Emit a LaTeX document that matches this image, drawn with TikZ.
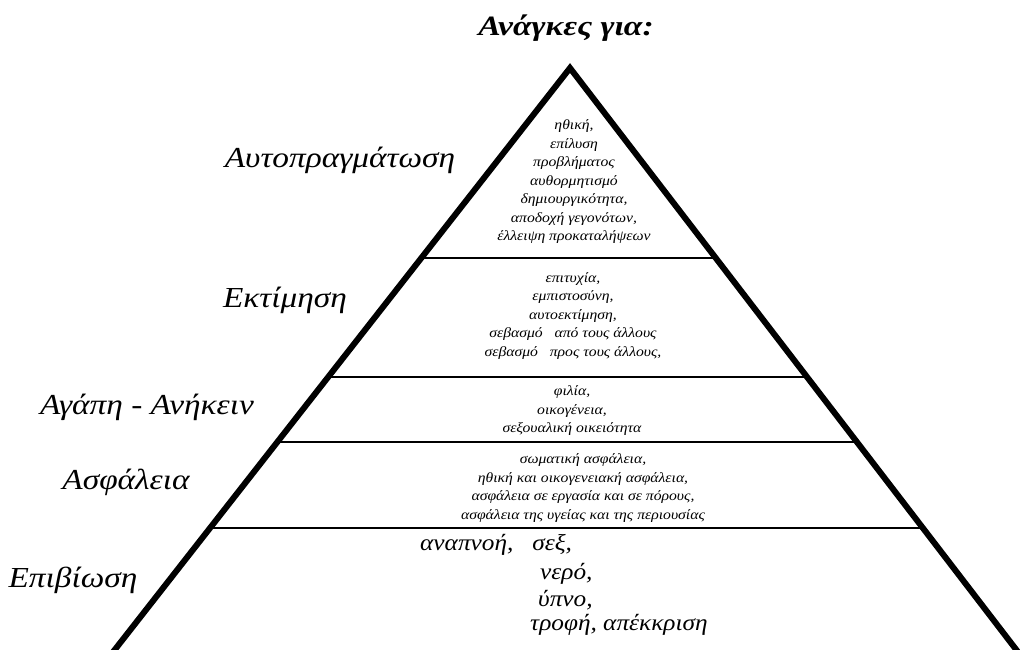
\documentclass[tikz,border=0pt]{standalone}
\usepackage{fontspec}
\setmainfont{Liberation Serif}
\newfontfamily\lblfont[FakeStretch=1.15]{Liberation Serif}
\newfontfamily\smallfont[FakeStretch=1.12]{Liberation Serif}
\newfontfamily\bigfont[FakeStretch=1.1]{Liberation Serif}
\newfontfamily\titlefont[FakeStretch=1.2]{Liberation Serif}
\begin{document}
\begin{tikzpicture}[x=1pt,y=-1pt,
  outer/.style={line width=6pt,line join=miter,line cap=butt},
  inner/.style={line width=1.8pt},
  lvl/.style={font=\lblfont\itshape\fontsize{29}{32}\selectfont,inner sep=0pt},
  small/.style={font=\smallfont\itshape\fontsize{14}{18.5}\selectfont,align=center,inner sep=0pt},
  big/.style={font=\bigfont\itshape\fontsize{23}{26}\selectfont,inner sep=0pt,anchor=west}]
\useasboundingbox (0,0) rectangle (1020,649);
\coordinate (apex) at (570,68);
\coordinate (bl) at (113,652);
\coordinate (br) at (1018,652);
% horizontal dividers
\path (apex) -- (bl) coordinate[pos=0.325] (a1) coordinate[pos=0.529] (a2) coordinate[pos=0.640] (a3) coordinate[pos=0.788] (a4);
\path (apex) -- (br) coordinate[pos=0.325] (b1) coordinate[pos=0.529] (b2) coordinate[pos=0.640] (b3) coordinate[pos=0.788] (b4);
\draw[inner] (a1) -- (b1);
\draw[inner] (a2) -- (b2);
\draw[inner] (a3) -- (b3);
\draw[inner] (a4) -- (b4);
\draw[outer] (bl) -- (apex) -- (br);
% title
\node[font=\titlefont\bfseries\itshape\fontsize{28}{30}\selectfont] (title) at (566,28) {Ανάγκες για:};
% level labels
\node[lvl] (n1) at (340,160) {Αυτοπραγμάτωση};
\node[lvl] (n2) at (285,300) {Εκτίμηση};
\node[lvl] (n3) at (147,407) {Αγάπη - Ανήκειν};
\node[lvl] (n4) at (126,482) {Ασφάλεια};
\node[lvl] (n5) at (73,580) {Επιβίωση};
% contents
\node[small] (t1) at (574,182) {ηθική,\\επίλυση\\προβλήματος\\αυθορμητισμό\\δημιουργικότητα,\\αποδοχή γεγονότων,\\έλλειψη προκαταλήψεων};
\node[small] (t2) at (573,316) {επιτυχία,\\εμπιστοσύνη,\\αυτοεκτίμηση,\\σεβασμό\ \ \ από τους άλλους\\σεβασμό\ \ \ προς τους άλλους,};
\node[small] (t3) at (572,411) {φιλία,\\οικογένεια,\\σεξουαλική οικειότητα};
\node[small] (t4) at (583,488) {σωματική ασφάλεια,\\ηθική και οικογενειακή ασφάλεια,\\ασφάλεια σε εργασία και σε πόρους,\\ασφάλεια της υγείας και της περιουσίας};
\node[big] (b1t) at (420,545) {αναπνοή,\ \ \ σεξ,};
\node[big] (b2t) at (540,574) {νερό,};
\node[big] (b3t) at (538,600) {ύπνο,};
\node[big] (b4t) at (530,625) {τροφή, απέκκριση};
\end{tikzpicture}
\end{document}
